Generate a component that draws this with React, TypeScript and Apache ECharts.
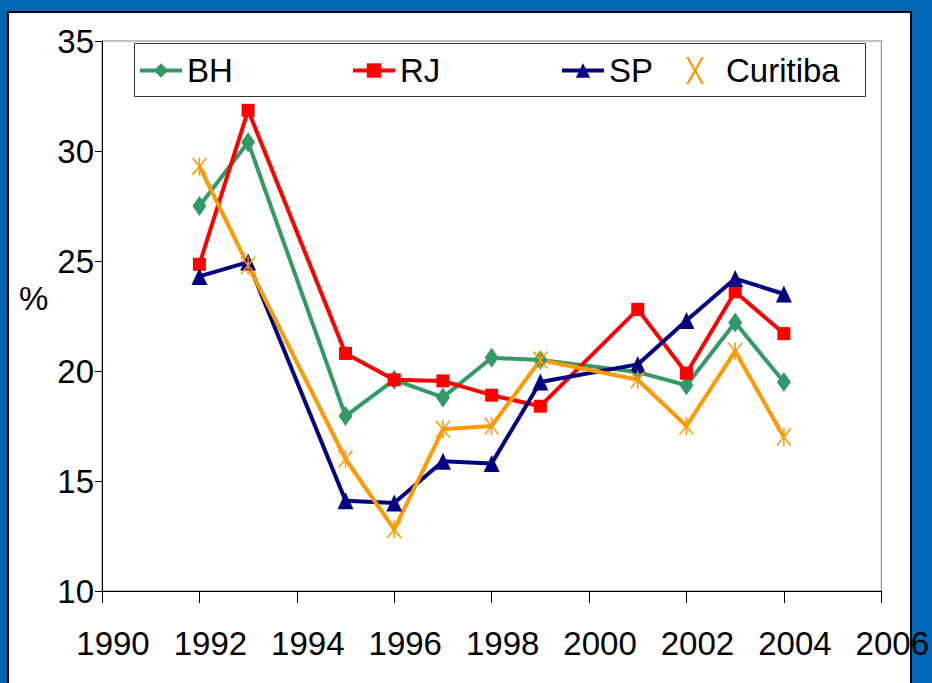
import React, { useEffect, useRef } from "react";
import * as echarts from "echarts";

const yearsBH = [1992, 1993, 1995, 1996, 1997, 1998, 1999, 2001, 2002, 2003, 2004];
const yearsRJ = [1992, 1993, 1995, 1996, 1997, 1998, 1999, 2001, 2002, 2003, 2004];
const yearsSP = [1992, 1993, 1995, 1996, 1997, 1998, 1999, 2001, 2002, 2003, 2004];
const yearsCuritiba = [1992, 1993, 1995, 1996, 1997, 1998, 1999, 2001, 2002, 2003, 2004];

const valuesBH = [27.5, 30.4, 17.95, 19.6, 18.8, 20.6, 20.5, 19.95, 19.35, 22.2, 19.5];
const valuesRJ = [24.85, 31.85, 20.8, 19.6, 19.55, 18.9, 18.4, 22.8, 19.9, 23.6, 21.7];
const valuesSP = [24.3, 24.95, 14.1, 14.0, 15.9, 15.8, 19.5, 20.3, 22.3, 24.2, 23.5];
const valuesCuritiba = [29.3, 24.8, 16.0, 12.8, 17.35, 17.5, 20.5, 19.6, 17.5, 20.9, 17.0];

const seriesNames = ["BH", "RJ", "SP", "Curitiba"];
const yAxisName = "%";

const FONT = "'Liberation Sans', Arial, sans-serif";

const STAR =
  "path://M6.3,0L7.7,0L7.7,16L6.3,16Z M0,1L1,0L14,15L13,16Z M13,0L14,1L1,16L0,15Z";
const XICON =
  "path://M0,0L2,0L7,9L12,0L14,0L8,10.5L14,21L12,21L7,12L2,21L0,21L6,10.5Z";

function pairs(xs: number[], ys: number[]) {
  return xs.map((x, i) => [x, ys[i]]);
}

export default function App() {
  const ref = useRef<HTMLDivElement>(null);

  useEffect(() => {
    if (!ref.current) return;
    const chart = echarts.init(ref.current, undefined, { renderer: "svg" });

    const legendText = { fontSize: 33, color: "#000", fontFamily: FONT };
    const mkLegend = (name: string, left: number, extra: any = {}) => ({
      data: [name],
      left,
      top: 54,
      padding: 0,
      itemWidth: 42,
      itemHeight: 18,
      selectedMode: false,
      textStyle: legendText,
      lineStyle: { width: 4 },
      z: 5,
      ...extra,
    });

    chart.setOption({
      animation: false,
      backgroundColor: "transparent",
      textStyle: { fontFamily: FONT },
      grid: {
        left: 102,
        top: 41,
        right: 50,
        bottom: 92,
        show: true,
        borderColor: "#808080",
        borderWidth: 1,
        backgroundColor: "transparent",
      },
      legend: [
        mkLegend(seriesNames[0], 138),
        mkLegend(seriesNames[1], 351),
        mkLegend(seriesNames[2], 560),
        {
          data: [{ name: seriesNames[3], icon: XICON }],
          left: 686,
          top: 54,
          padding: 0,
          itemWidth: 20,
          itemHeight: 27,
          selectedMode: false,
          textStyle: { ...legendText, padding: [0, 0, 0, 16] },
          z: 5,
        },
      ],
      graphic: [
        {
          type: "rect",
          z: 3,
          shape: { x: 134.5, y: 43.5, width: 731, height: 53 },
          style: { fill: "#fff", stroke: "#333", lineWidth: 1 },
        },
        {
          type: "text",
          z: 3,
          x: 19,
          y: 298,
          style: {
            text: yAxisName,
            fontSize: 33,
            fontFamily: FONT,
            fill: "#000",
            verticalAlign: "middle",
          },
        },
      ],
      xAxis: {
        type: "value",
        min: 1990,
        max: 2006,
        interval: 2,
        splitLine: { show: false },
        axisLine: { show: true, onZero: false, lineStyle: { color: "#000", width: 1 } },
        axisTick: { show: true, length: 12, inside: false, lineStyle: { color: "#000" } },
        axisLabel: {
          fontSize: 33,
          color: "#000",
          fontFamily: FONT,
          margin: 36,
          padding: [0, 0, 0, 22],
          showMinLabel: true,
          showMaxLabel: true,
          formatter: (v: number) => String(v),
        },
      },
      yAxis: {
        type: "value",
        min: 10,
        max: 35,
        interval: 5,
        splitLine: { show: false },
        axisLine: { show: true, lineStyle: { color: "#000", width: 1 } },
        axisTick: { show: true, length: 7, inside: false, lineStyle: { color: "#000" } },
        axisLabel: {
          fontSize: 33,
          color: "#000",
          fontFamily: FONT,
          margin: 8,
          showMinLabel: true,
          showMaxLabel: true,
        },
      },
      series: [
        {
          name: seriesNames[0],
          type: "line",
          data: pairs(yearsBH, valuesBH),
          symbol: "diamond",
          symbolSize: [14, 20],
          itemStyle: { color: "#339966" },
          lineStyle: { color: "#339966", width: 4 },
        },
        {
          name: seriesNames[1],
          type: "line",
          data: pairs(yearsRJ, valuesRJ),
          symbol: "rect",
          symbolSize: 13,
          itemStyle: { color: "#FF0000" },
          lineStyle: { color: "#FF0000", width: 4 },
        },
        {
          name: seriesNames[2],
          type: "line",
          data: pairs(yearsSP, valuesSP),
          symbol: "triangle",
          symbolSize: [16, 17],
          itemStyle: { color: "#000080" },
          lineStyle: { color: "#000080", width: 4 },
        },
        {
          name: seriesNames[3],
          type: "line",
          data: pairs(yearsCuritiba, valuesCuritiba),
          symbol: STAR,
          symbolSize: [15, 18],
          itemStyle: { color: "#FF9900" },
          lineStyle: { color: "#FF9900", width: 4 },
        },
      ],
    });

    return () => chart.dispose();
  }, []);

  return (
    <div
      style={{
        position: "fixed",
        left: 0,
        top: 0,
        width: 932,
        height: 683,
        background: "#0066B3",
        overflow: "hidden",
      }}
    >
      <div
        style={{
          position: "absolute",
          left: 7,
          top: 11,
          width: 905,
          height: 700,
          boxSizing: "border-box",
          background: "#fff",
          border: "2px solid #000",
        }}
      />
      <div
        ref={ref}
        style={{ position: "absolute", left: 0, top: 0, width: 932, height: 683 }}
      />
    </div>
  );
}
